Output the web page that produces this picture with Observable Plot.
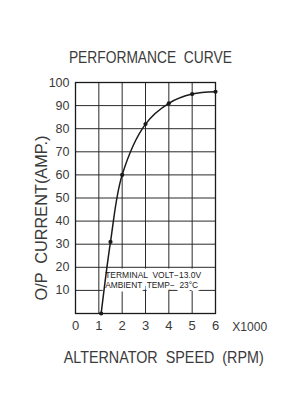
<!DOCTYPE html>
<html>
<head>
<meta charset="utf-8">
<script src="https://cdn.jsdelivr.net/npm/d3@7"></script>
<script src="https://cdn.jsdelivr.net/npm/@observablehq/plot@0.6"></script>
<style>
  html, body { margin: 0; padding: 0; background: #fff; }
</style>
</head>
<body>
<div id="chart"></div>
<script>
// Data
const rpm = [1.1, 1.5, 2, 3, 4, 5, 6];          // x1000 RPM
const amps = [0, 31, 60, 82, 91, 95, 96];        // output current (A)
const xTicks = [0, 1, 2, 3, 4, 5, 6];
const yTicks = [10, 20, 30, 40, 50, 60, 70, 80, 90, 100];
const gridXValues = [1, 2, 3, 4, 5];
const gridYValues = [10, 20, 30, 40, 50, 60, 70, 80, 90];
const titleText = "PERFORMANCE  CURVE";
const xLabelText = "ALTERNATOR  SPEED  (RPM)";
const yLabelText = "O/P  CURRENT(AMP.)";
const unitText = "X1000";
const noteLines = ["TERMINAL  VOLT\u221213.0V", "AMBIENT  TEMP\u2212  23\u00b0C"];
const noteX = 1.27;   // annotation anchor (data units)
const noteY = 14.7;

const data = rpm.map((x, i) => ({x, y: amps[i]}));
const ink = "#1a1a1a";
const gridInk = "#2a2a2a";
const txt = "#3a3a3a";
const font = "'Liberation Sans', Arial, sans-serif";
const center = {textAnchor: "middle", lineAnchor: "middle", fill: txt, text: d => d};

const chart = Plot.plot({
  width: 283,
  height: 400,
  marginLeft: 75,
  marginRight: 68,
  marginTop: 82,
  marginBottom: 87,
  style: {fontFamily: font, color: txt, background: "#fff", overflow: "visible"},
  x: {domain: [0, 6]},
  y: {domain: [0, 100]},
  marks: [
    Plot.gridX(gridXValues, {stroke: gridInk, strokeOpacity: 1, strokeWidth: 1}),
    Plot.gridY(gridYValues, {stroke: gridInk, strokeOpacity: 1, strokeWidth: 1}),
    Plot.frame({stroke: ink, strokeWidth: 1.3}),
    Plot.text([noteLines.join("\n")], {
      x: noteX, y: noteY, text: d => d, textAnchor: "start",
      fontSize: 8.5, fill: "#222", lineHeight: 1.18,
      stroke: "#fff", strokeWidth: 7, strokeLinejoin: "round"
    }),
    Plot.line(data, {x: "x", y: "y", curve: "catmull-rom", stroke: ink, strokeWidth: 1.5}),
    Plot.dot(data, {x: "x", y: "y", r: 2.1, fill: ink}),
    Plot.axisX(xTicks, {tickSize: 0, tickPadding: 7, fontSize: 13, label: null, fill: txt}),
    Plot.axisY(yTicks, {tickSize: 0, tickPadding: 6, fontSize: 12.5, label: null, fill: txt}),
    Plot.text([titleText], {...center, frameAnchor: "top", dx: 4.9, dy: -24.8, fontSize: 16.5}),
    Plot.text([unitText], {...center, frameAnchor: "bottom-right", dx: 34.2, dy: 13.7, fontSize: 13}),
    Plot.text([xLabelText], {...center, frameAnchor: "bottom", dx: 18.2, dy: 44, fontSize: 16.5}),
    Plot.text([yLabelText], {...center, frameAnchor: "left", dx: -33.5, dy: 20, rotate: -90, fontSize: 17})
  ]
});

// Squeeze the CAD-style labels to the reference's lengths
const fitWidths = new Map([
  [titleText, 163], [xLabelText, 200], [yLabelText, 165], [unitText, 35],
  [noteLines[0], 96], [noteLines[1], 93]
]);
d3.select(chart).selectAll("text, tspan").each(function() {
  const el = this;
  if (el.tagName === "text" && el.querySelector("tspan")) return;
  const w = fitWidths.get(el.textContent);
  if (w) {
    el.setAttribute("textLength", w);
    el.setAttribute("lengthAdjust", "spacingAndGlyphs");
  }
});
document.getElementById("chart").appendChild(chart);
</script>
</body>
</html>
